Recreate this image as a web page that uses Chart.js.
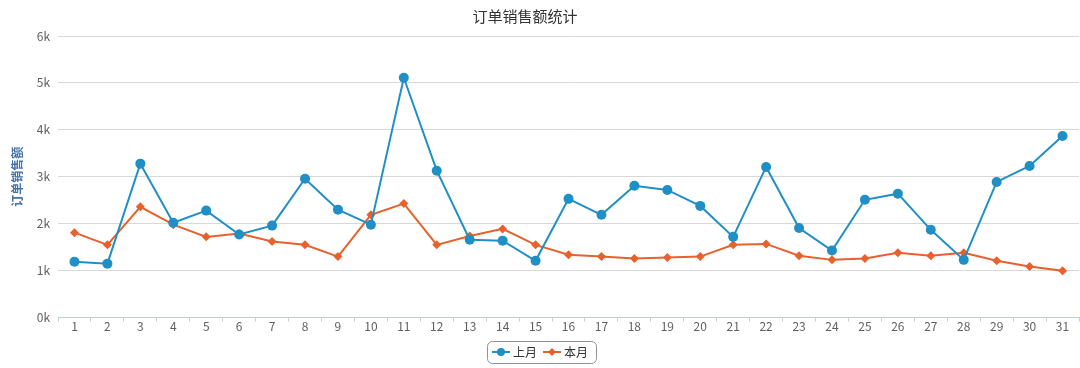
<!DOCTYPE html>
<html>
<head>
<meta charset="utf-8">
<script src="https://cdn.jsdelivr.net/npm/chart.js@4.4.1/dist/chart.umd.min.js"></script>
<style>
html,body{margin:0;padding:0;background:#fff;overflow:hidden;}
#wrap{width:1080px;height:368px;position:relative;overflow:hidden;}
</style>
</head>
<body>
<div id="wrap"><canvas id="c" width="1084" height="368"></canvas></div>
<script>
const days = ['1','2','3','4','5','6','7','8','9','10','11','12','13','14','15','16','17','18','19','20','21','22','23','24','25','26','27','28','29','30','31'];
const lastMonth = [1.19,1.15,3.28,2.02,2.28,1.77,1.96,2.96,2.30,1.98,5.11,3.13,1.66,1.64,1.21,2.53,2.19,2.81,2.72,2.38,1.72,3.21,1.91,1.43,2.51,2.64,1.87,1.23,2.89,3.23,3.87];
const thisMonth = [1.81,1.55,2.36,1.98,1.72,1.79,1.62,1.55,1.30,2.19,2.43,1.55,1.74,1.89,1.55,1.34,1.30,1.26,1.28,1.30,1.55,1.57,1.32,1.23,1.26,1.38,1.32,1.38,1.21,1.09,1.00];
const seriesNames = ['上月','本月'];
const yTicks = [0,1,2,3,4,5,6];
const yUnit = 'k';

const FONT = '"Noto Sans CJK SC", "DejaVu Sans", sans-serif';
const BLUE = '#1f8fc6';
const ORANGE = '#e8602c';

function legendIcon(color, shape) {
  const c = document.createElement('canvas');
  c.width = 18; c.height = 10;
  const x = c.getContext('2d');
  x.strokeStyle = color; x.fillStyle = color; x.lineWidth = 2;
  x.beginPath(); x.moveTo(0, 5); x.lineTo(18, 5); x.stroke();
  x.beginPath();
  if (shape === 'circle') { x.arc(9, 5, 4, 0, Math.PI * 2); }
  else { x.moveTo(9, 1); x.lineTo(13, 5); x.lineTo(9, 9); x.lineTo(5, 5); x.closePath(); }
  x.fill();
  return c;
}
const icons = [legendIcon(BLUE, 'circle'), legendIcon(ORANGE, 'diamond')];

const legendBox = {
  id: 'legendBox',
  afterLayout(chart) {
    const t = chart.titleBlock;
    if (t) { t.left = 0; t.right = 1050; t.width = 1050; }
  },
  beforeDraw(chart) {
    const l = chart.legend;
    if (!l) return;
    const ctx = chart.ctx;
    const items = l.legendHitBoxes;
    if (!items || !items.length) return;
    let x0 = Math.min(...items.map(b => b.left)) - 8;
    let x1 = Math.max(...items.map(b => b.left + b.width)) + 8;
    let y0 = items[0].top - 5;
    let y1 = items[0].top + items[0].height + 5;
    ctx.save();
    ctx.beginPath();
    ctx.roundRect(x0 + 0.5, y0 + 0.5, x1 - x0, y1 - y0, 5);
    ctx.strokeStyle = '#909090';
    ctx.lineWidth = 1;
    ctx.stroke();
    ctx.restore();
  }
};

new Chart(document.getElementById('c'), {
  type: 'line',
  data: {
    labels: days,
    datasets: [
      {label: seriesNames[0], data: lastMonth, borderColor: BLUE, backgroundColor: BLUE,
       borderWidth: 2, pointStyle: 'circle', pointRadius: 5, pointHoverRadius: 5, pointBorderWidth: 0, tension: 0},
      {label: seriesNames[1], data: thisMonth, borderColor: ORANGE, backgroundColor: ORANGE,
       borderWidth: 2, pointStyle: 'rectRot', pointRadius: 4.5, pointHoverRadius: 4.5, pointBorderWidth: 0, tension: 0}
    ]
  },
  options: {
    responsive: false,
    animation: false,
    layout: {padding: {left: 0, right: 1, top: 0, bottom: 0}},
    plugins: {
      title: {display: true, text: '订单销售额统计', color: '#333333',
        font: {family: FONT, size: 15, weight: 'normal'}, padding: {top: 7, bottom: 11}},
      legend: {position: 'bottom',
        labels: {usePointStyle: true, boxWidth: 18, boxHeight: 10, padding: 9, color: '#333',
          font: {family: FONT, size: 12},
          generateLabels(chart) {
            const base = Chart.defaults.plugins.legend.labels.generateLabels(chart);
            base.forEach((it, i) => { it.pointStyle = icons[i]; });
            return base;
          }}},
      tooltip: {enabled: false}
    },
    scales: {
      x: {
        offset: true,
        afterFit: s => { s.height += 5; },
        grid: {offset: true, drawOnChartArea: false, drawTicks: true, tickLength: 4, color: '#C0D0E0'},
        border: {color: '#C0D0E0'},
        ticks: {color: '#606060', font: {family: FONT, size: 12}, maxRotation: 0, autoSkip: false, padding: -2}
      },
      y: {
        min: yTicks[0], max: yTicks[yTicks.length - 1],
        afterBuildTicks: s => { s.ticks = yTicks.map(v => ({value: v})); },
        afterFit: s => { s.width = 58; },
        grid: {color: '#D8D8D8', drawTicks: false},
        border: {display: false},
        ticks: {color: '#606060', padding: 8, font: {family: FONT, size: 12}, callback: v => v + yUnit},
        title: {display: true, text: '订单销售额', color: '#4572A7', font: {family: FONT, size: 12, weight: 'bold'}, padding: {top: 10, bottom: 0}}
      }
    }
  },
  plugins: [legendBox]
});
</script>
</body>
</html>
